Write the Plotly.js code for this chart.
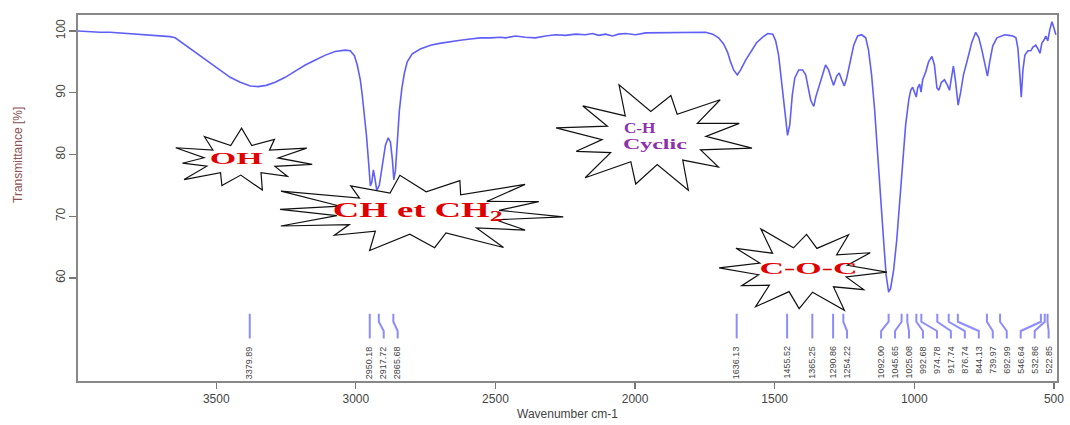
<!DOCTYPE html>
<html>
<head>
<meta charset="utf-8">
<script src="https://cdn.plot.ly/plotly-3.0.1.min.js"></script>
<style>
  html, body { margin: 0; padding: 0; background: #fff; }
  #chart { width: 1070px; height: 425px; }
</style>
</head>
<body>
<div id="chart"></div>
<script>
// ---- Spectrum data (wavenumber cm-1, transmittance %) ----
const wavenumber = [3995,3960,3916,3880,3844,3808,3772,3736,3701,3665,3647,3622,3593,3557,3522,3486,3450,3414,3378,3350,3321,3289,3253,3217,3181,3145,3109,3074,3038,3020,3005,2995,2984,2977,2970,2962,2955,2948,2943,2937,2932,2925,2916,2905,2894,2884,2876,2869,2864,2858,2851,2844,2835,2826,2816,2798,2769,2733,2700,2661,2626,2590,2554,2518,2482,2464,2428,2393,2357,2321,2285,2249,2213,2178,2152,2131,2106,2081,2059,2034,1998,1962,1909,1855,1801,1747,1722,1701,1683,1669,1658,1647,1634,1622,1604,1586,1565,1543,1525,1507,1497,1486,1475,1464,1454,1446,1437,1428,1414,1400,1389,1378,1371,1366,1360,1353,1342,1328,1318,1307,1296,1289,1278,1269,1260,1251,1242,1231,1217,1203,1189,1174,1164,1153,1142,1131,1120,1110,1101,1092,1085,1074,1063,1052,1042,1031,1020,1013,1006,999,993,988,981,976,970,959,949,937,928,919,912,903,892,881,874,867,860,853,843,834,824,810,794,780,769,758,747,738,730,719,704,690,676,661,647,636,629,622,617,611,604,593,583,575,565,557,550,543,536,529,522,515,507,500,493];
const transmittance = [100.0,99.9,99.8,99.8,99.7,99.6,99.5,99.4,99.3,99.1,98.9,98.1,97.1,96.0,94.8,93.7,92.5,91.7,91.1,91.0,91.2,91.7,92.5,93.5,94.5,95.3,96.1,96.7,96.9,96.8,96.0,94.5,92.1,89.6,86.7,83.1,79.1,74.9,75.5,77.5,76.2,74.2,75.0,78.3,81.5,82.7,82.0,79.1,75.9,77.5,82.3,87.2,90.8,93.2,95.0,96.3,97.1,97.7,98.0,98.3,98.5,98.7,98.9,98.9,99.0,98.9,99.2,99.0,98.9,99.2,99.4,99.3,99.5,99.4,99.6,99.3,99.5,99.2,99.5,99.6,99.4,99.7,99.7,99.8,99.8,99.8,99.5,98.9,97.9,96.6,95.0,93.7,92.9,93.7,95.3,96.6,98.1,99.0,99.6,99.5,98.5,96.1,92.1,87.2,83.1,84.8,89.6,92.4,93.7,93.7,92.9,90.4,88.8,88.3,87.8,89.3,90.8,93.0,94.5,93.7,92.1,91.2,92.7,93.2,92.1,91.1,92.4,95.0,97.7,99.2,99.4,98.9,96.9,92.9,87.2,79.9,73.4,66.1,60.5,57.7,58.3,61.3,66.1,72.6,79.1,84.8,88.8,90.4,90.9,89.9,89.3,90.8,91.4,90.1,92.1,93.4,95.0,95.9,94.5,90.8,90.4,91.7,92.1,91.2,90.4,92.4,94.3,92.1,88.0,90.1,92.9,95.3,98.2,99.8,98.9,96.9,94.5,92.7,95.0,97.6,98.9,99.2,99.4,99.3,99.2,98.9,97.2,92.9,89.3,93.7,96.1,96.8,96.8,97.4,97.7,97.1,96.4,98.1,98.5,99.2,98.4,100.2,101.5,100.5,99.4];

// ---- Peak picks ----
const peakWn = [3379.89,2950.18,2917.72,2865.68,1636.13,1455.52,1365.25,1290.86,1254.22,1092.00,1045.65,1025.08,992.68,974.78,917.74,876.74,844.13,739.97,692.99,546.64,532.86,522.85];

// ---- Axis ticks ----
const xTicks = [3500,3000,2500,2000,1500,1000,500];
const yTicks = [60,70,80,90,100];

// ---- Group annotations ----
const groupTexts = ["OH", "CH et CH<sub>2</sub>", "C-H", "Cyclic", "C-O-C"];
const groupColors = ["#e00000", "#e00000", "#8e2fae", "#8e2fae", "#e00000"];

// layout geometry
const W = 1070, H = 425, ML = 78, MR = 13, MT = 15, MB = 44;
const PW = W - ML - MR, PH = H - MT - MB;
const px2x = p => (p - ML) / PW;
const px2y = p => (H - MB - p) / PH;

// spread label positions (wavenumber units)
const gap = 50, lowBound = 519;
const labelWn = peakWn.slice();
for (let i = 1; i < labelWn.length; i++) labelWn[i] = Math.min(labelWn[i], labelWn[i-1] - gap);
labelWn[labelWn.length-1] = Math.max(labelWn[labelWn.length-1], lowBound);
for (let i = labelWn.length - 2; i >= 0; i--) labelWn[i] = Math.max(labelWn[i], labelWn[i+1] + gap);

const yTop = 54.2, yK1 = 52.9, yK2 = 51.4, yBot = 50.2, yLab = 49.3;
const lx = [], ly = [];
peakWn.forEach((p, i) => {
  lx.push(p, p, labelWn[i], labelWn[i], null);
  ly.push(yTop, yK1, yK2, yBot, null);
});

const traces = [
  { x: wavenumber, y: transmittance, type: 'scatter', mode: 'lines',
    line: { color: '#5f5ff7', width: 1.6 }, hoverinfo: 'skip' },
  { x: lx, y: ly, type: 'scatter', mode: 'lines',
    line: { color: '#8c8cff', width: 2 }, hoverinfo: 'skip' }
];

const annotations = peakWn.map((p, i) => ({
  x: labelWn[i], y: yLab, xref: 'x', yref: 'y',
  text: p.toFixed(2), textangle: -90, showarrow: false,
  xanchor: 'center', yanchor: 'top',
  font: { family: 'Liberation Sans, Arial, sans-serif', size: 9, color: '#444' }
}));

// star decorations (px geometry)
const stars = [
  { cx: 241, cy: 160, rx: 72, ry: 29, n: 11, inner: 0.52, rot: 0.15 },
  { cx: 418, cy: 213, rx: 146, ry: 38, n: 14, inner: 0.56, rot: 0.1 },
  { cx: 654, cy: 138, rx: 100, ry: 51, n: 12, inner: 0.52, rot: 0.2 },
  { cx: 803, cy: 270, rx: 84, ry: 42, n: 12, inner: 0.54, rot: 0.05 }
];
const jit = [1, 0.86, 1.08, 0.92, 1.04, 0.82, 1, 0.95, 1.1, 0.85, 1, 0.9, 1.05, 0.88];
const shapes = stars.map(s => {
  let d = '';
  for (let k = 0; k < 2 * s.n; k++) {
    const a = s.rot + k * Math.PI / s.n;
    const r = (k % 2 === 0) ? jit[(k/2) % jit.length] : s.inner;
    const X = px2x(s.cx + s.rx * r * Math.cos(a));
    const Y = px2y(s.cy + s.ry * r * Math.sin(a));
    d += (k === 0 ? 'M ' : ' L ') + X.toFixed(5) + ',' + Y.toFixed(5);
  }
  d += ' Z';
  return { type: 'path', path: d, xref: 'paper', yref: 'paper', layer: 'above',
           fillcolor: '#ffffff', line: { color: '#111', width: 1.2 } };
});

const groupPos = [[236,158,17,2.0],[417,211,21,1.75],[640,128,15,1.15],[655,144,15,1.6],[808,268,17,2.0]];
const groupStart = annotations.length;
groupTexts.forEach((t, i) => {
  annotations.push({
    x: px2x(groupPos[i][0]), y: px2y(groupPos[i][1]), xref: 'paper', yref: 'paper',
    text: '<b>' + t + '</b>', showarrow: false, xanchor: 'center', yanchor: 'middle',
    font: { family: 'Liberation Serif, Times New Roman, serif', size: groupPos[i][2], color: groupColors[i] }
  });
});

// y title annotation
annotations.push({
  x: px2x(18), y: px2y(155), xref: 'paper', yref: 'paper', text: 'Transmittance [%]',
  textangle: -90, showarrow: false, xanchor: 'center', yanchor: 'middle',
  font: { family: 'Liberation Sans, Arial, sans-serif', size: 12, color: '#8a5252' }
});

const layout = {
  width: W, height: H,
  margin: { l: ML, r: MR, t: MT, b: MB, pad: 0 },
  paper_bgcolor: '#fff', plot_bgcolor: '#fff',
  showlegend: false,
  xaxis: {
    range: [3995, 489], tickvals: xTicks, ticktext: xTicks.map(String),
    ticks: 'outside', ticklen: 6, tickwidth: 1.3, tickcolor: '#777',
    showline: true, mirror: true, linecolor: '#888', linewidth: 1.6,
    showgrid: false, zeroline: false,
    tickfont: { family: 'Liberation Sans, Arial, sans-serif', size: 12, color: '#444' },
    title: { text: 'Wavenumber cm-1', standoff: 4,
             font: { family: 'Liberation Sans, Arial, sans-serif', size: 12, color: '#444' } }
  },
  yaxis: {
    range: [43.3, 102.6], tickvals: yTicks, ticktext: yTicks.map(String),
    tickangle: -90,
    ticks: 'outside', ticklen: 7, tickwidth: 1.3, tickcolor: '#777',
    showline: true, mirror: true, linecolor: '#888', linewidth: 1.6,
    showgrid: false, zeroline: false,
    tickfont: { family: 'Liberation Sans, Arial, sans-serif', size: 12, color: '#444' }
  },
  shapes: shapes,
  annotations: annotations
};

Plotly.newPlot('chart', traces, layout, { displayModeBar: false, staticPlot: true }).then(gd => {
  // horizontally stretch the group labels like the reference
  document.querySelectorAll('g.annotation').forEach(g => {
    const idx = +g.getAttribute('data-index');
    const gi = idx - groupStart;
    if (gi >= 0 && gi < groupTexts.length) {
      const t = g.querySelector('text.annotation-text');
      if (!t) return;
      const bb = t.getBBox();
      const c = bb.x + bb.width / 2;
      const s = groupPos[gi][3];
      t.setAttribute('transform', 'translate(' + c + ',0) scale(' + s + ',1) translate(' + (-c) + ',0)');
    }
  });
});
</script>
</body>
</html>
